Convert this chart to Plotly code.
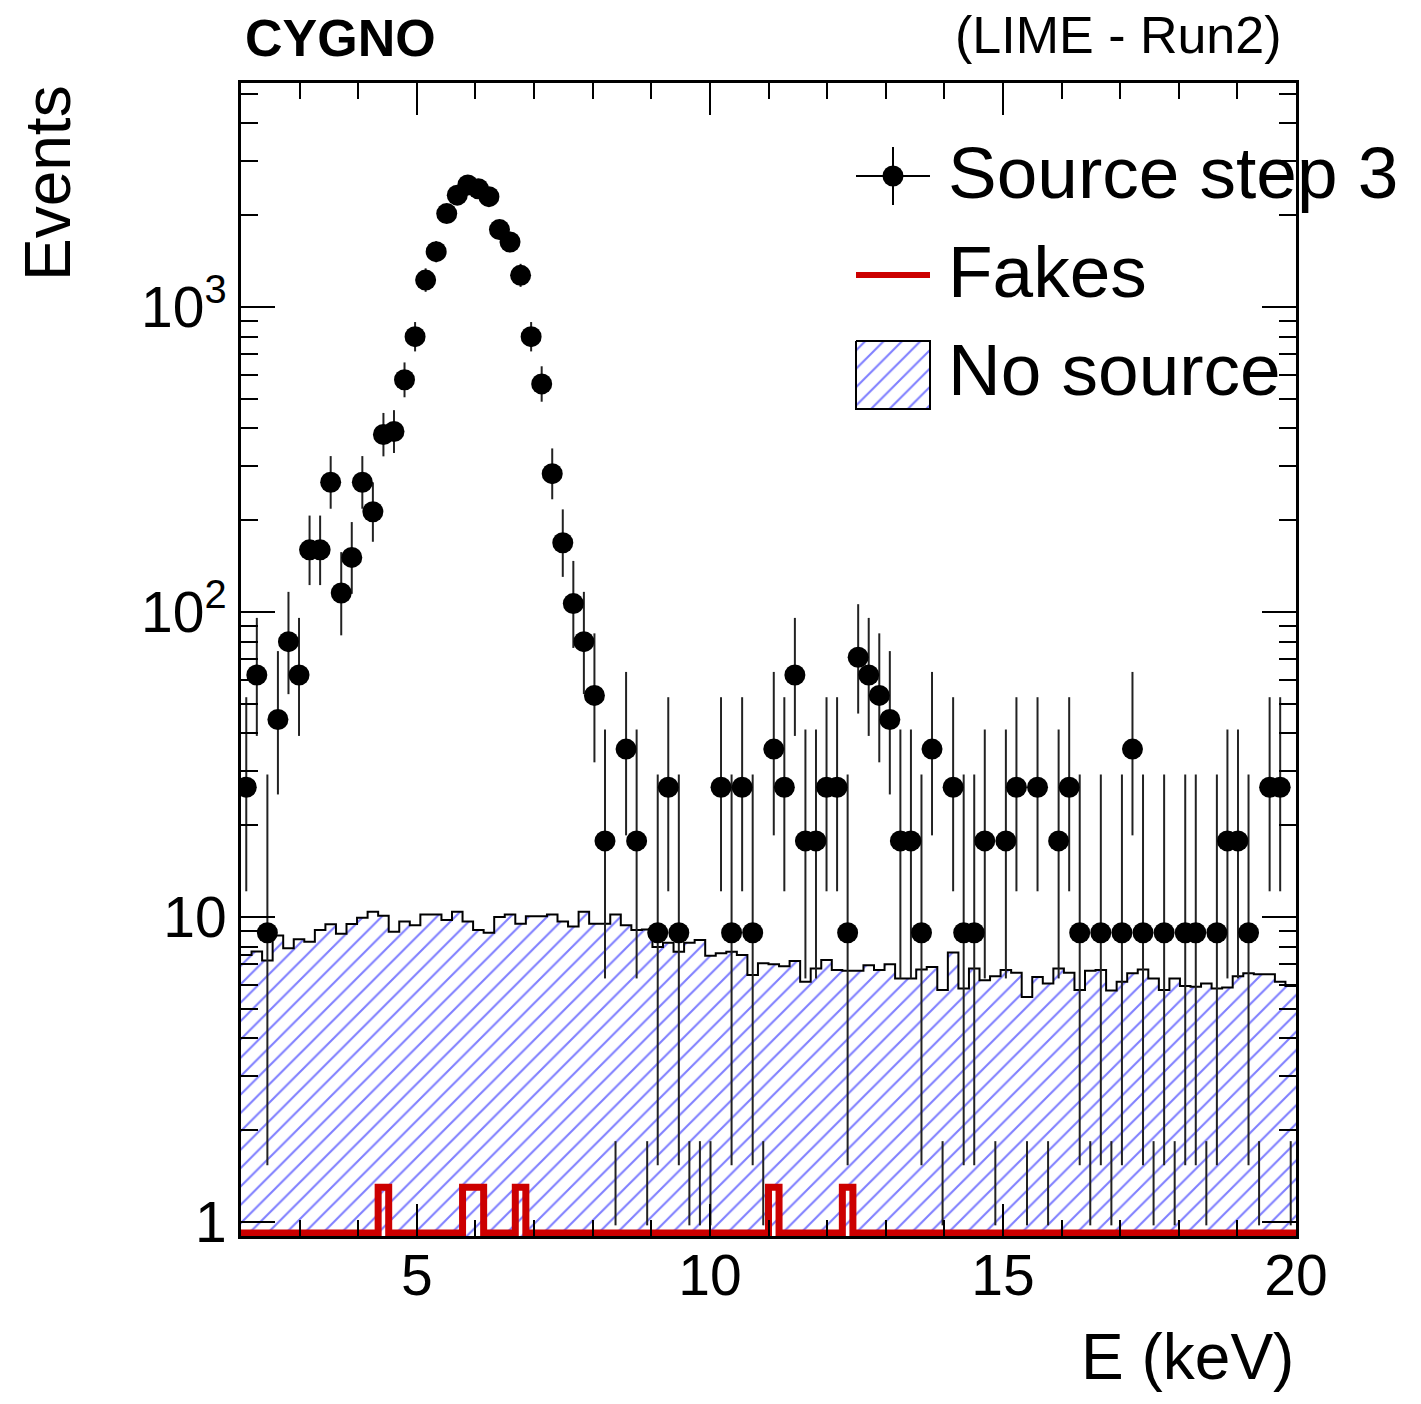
import math
import numpy as np
import plotly.graph_objects as go

# ---------------- data ----------------
X_MIN, X_MAX, N_BINS = 2.0, 20.0, 100
EVENT_WEIGHT = 8.88          # weight of one selected event (histogram is scaled)

# "Source step 3": raw event counts per bin (bin width 0.18 keV)
source_counts = [
    3, 7, 1, 5, 9, 7, 18, 18, 30, 13,
    17, 30, 24, 43, 44, 65, 90, 138, 171, 228,
    262, 283, 275, 259, 202, 184, 143, 90, 63, 32,
    19, 12, 9, 6, 2, 0, 4, 2, 0, 1,
    3, 1, 0, 0, 0, 3, 1, 3, 1, 0,
    4, 3, 7, 2, 2, 3, 3, 1, 8, 7,
    6, 5, 2, 2, 1, 4, 0, 3, 1, 1,
    2, 0, 2, 3, 0, 3, 0, 2, 3, 1,
    0, 1, 0, 1, 4, 1, 0, 1, 0, 1,
    1, 0, 1, 2, 2, 1, 0, 3, 3, 0,
]

# "No source" (normalised) events per bin
no_source = [
    7.5, 7.7, 7.2, 8.7, 7.9, 8.45, 8.3, 9.06, 9.46, 8.82,
    9.48, 9.95, 10.4, 10.1, 8.94, 9.67, 9.4, 10.2, 10.2, 9.78,
    10.4, 9.67, 9.06, 8.88, 10.0, 10.2, 9.5, 10.05, 10.05, 10.2,
    9.67, 9.3, 10.4, 9.5, 9.5, 10.2, 9.4, 9.06, 9.1, 7.97,
    8.23, 7.69, 8.23, 8.4, 7.46, 7.6, 7.69, 7.5, 6.45, 7.05,
    7.0, 6.9, 7.17, 6.13, 6.78, 7.23, 6.7, 6.66, 6.66, 6.95,
    6.7, 7.0, 6.29, 6.29, 6.73, 6.86, 5.76, 7.65, 5.83, 6.78,
    6.2, 6.39, 6.7, 6.57, 5.47, 6.36, 6.05, 6.78, 6.57, 5.76,
    6.66, 6.7, 5.74, 6.13, 6.54, 6.73, 6.29, 5.76, 6.29, 5.94,
    5.91, 6.05, 5.83, 5.87, 6.39, 6.54, 6.49, 6.49, 6.13, 5.94,
]

# "Fakes" per bin
fakes = [
    0, 0, 0, 0, 0, 0, 0, 0, 0, 0,
    0, 0, 0, 1.3, 0, 0, 0, 0, 0, 0,
    0, 1.3, 1.3, 0, 0, 0, 1.3, 0, 0, 0,
    0, 0, 0, 0, 0, 0, 0, 0, 0, 0,
    0, 0, 0, 0, 0, 0, 0, 0, 0, 0,
    1.3, 0, 0, 0, 0, 0, 0, 1.3, 0, 0,
    0, 0, 0, 0, 0, 0, 0, 0, 0, 0,
    0, 0, 0, 0, 0, 0, 0, 0, 0, 0,
    0, 0, 0, 0, 0, 0, 0, 0, 0, 0,
    0, 0, 0, 0, 0, 0, 0, 0, 0, 0,
]

x_tick_vals = [5, 10, 15, 20]
y_tick_vals = [1, 10, 100, 1000]
y_tick_text = ["1", "10", "10<sup>2</sup>", "10<sup>3</sup>"]

# ---------------- style ----------------
FONT = "Liberation Sans, Arial, Helvetica, sans-serif"
W, H = 1421, 1404
ML, MR, MT, MB = 241, 125, 83, 168
Y_LOG_RANGE = [-0.0459, 3.7344]
HATCH = dict(shape="/", fgcolor="#0000ff", bgcolor="white", size=13, solidity=0.16)
RED = "#cc0000"
ERR_COLOR = "#222222"
ZERO_FLOOR = 0.92       # where empty bins are drawn on the log axis
ZERO_ERR_FLOOR = 0.975

# ---------------- helpers ----------------
edges = np.linspace(X_MIN, X_MAX, N_BINS + 1)
centers = 0.5 * (edges[:-1] + edges[1:])

ALPHA = (1 - 0.682689492) / 2


def pois_cdf(n, mu):
    if mu <= 0:
        return 1.0
    s = 0.0
    lm = math.log(mu)
    for k in range(n + 1):
        s += math.exp(k * lm - mu - math.lgamma(k + 1))
    return s


def solve(f, lo, hi):
    for _ in range(80):
        mid = 0.5 * (lo + hi)
        if f(mid) > 0:
            lo = mid
        else:
            hi = mid
    return 0.5 * (lo + hi)


def garwood(n):
    hi = n + 10 * math.sqrt(n + 1) + 10
    up = solve(lambda mu: pois_cdf(n, mu) - ALPHA, 0.0, hi)
    lo = 0.0 if n == 0 else solve(lambda mu: pois_cdf(n - 1, mu) - (1 - ALPHA), 0.0, hi)
    return lo, up


def step(vals):
    return list(edges), list(vals) + [vals[-1]]


fig = go.Figure()

# No source: hatched histogram
sx, sy = step(no_source)
fig.add_trace(go.Scatter(
    x=sx, y=sy, mode="lines", line=dict(color="black", width=2, shape="hv"),
    fill="tozeroy", fillcolor="rgba(0,0,0,0)", fillpattern=HATCH,
    hoverinfo="skip", name="No source"))

# Fakes: red step line
fx, fy = step([v if v > 0 else ZERO_FLOOR for v in fakes])
fig.add_trace(go.Scatter(
    x=fx, y=fy, mode="lines", line=dict(color=RED, width=7, shape="hv"),
    name="Fakes"))

# Empty bins of the source histogram: only upper Poisson error
zx, zy = [], []
for c, n in zip(centers, source_counts):
    if n == 0:
        lo, up = garwood(0)
        zx += [c, c, None]
        zy += [ZERO_ERR_FLOOR, up, None]
fig.add_trace(go.Scatter(x=zx, y=zy, mode="lines",
                         line=dict(color=ERR_COLOR, width=2), name="empty bins"))

# Source step 3: points with Poisson errors
px, py, eu, ed = [], [], [], []
for c, n in zip(centers, source_counts):
    if n > 0:
        lo, up = garwood(n)
        px.append(c)
        py.append(n * EVENT_WEIGHT)
        eu.append((up - n) * EVENT_WEIGHT)
        ed.append((n - lo) * EVENT_WEIGHT)
fig.add_trace(go.Scatter(
    x=px, y=py, mode="markers",
    marker=dict(symbol="circle", size=21, color="black"),
    error_y=dict(type="data", symmetric=False, array=eu, arrayminus=ed,
                 color=ERR_COLOR, thickness=2, width=0),
    name="Source step 3"))

# ---------------- hand-drawn legend (in plot-fraction coordinates) ----------------
def fx_(p):
    return (p - ML) / (W - ML - MR)


def fy_(p):
    return (H - MB - p) / (H - MT - MB)


lx0, lx1, lxm = fx_(856), fx_(930), fx_(893)
# marker entry
fig.add_trace(go.Scatter(x=[lx0, lx1, None, lxm, lxm], y=[fy_(176), fy_(176), None, fy_(147), fy_(205)],
                         mode="lines", line=dict(color="black", width=2),
                         xaxis="x2", yaxis="y2", cliponaxis=False, hoverinfo="skip"))
fig.add_trace(go.Scatter(x=[lxm], y=[fy_(176)], mode="markers",
                         marker=dict(size=21, color="black"),
                         xaxis="x2", yaxis="y2", cliponaxis=False, hoverinfo="skip"))
# red line entry
fig.add_trace(go.Scatter(x=[lx0, lx1], y=[fy_(275), fy_(275)], mode="lines",
                         line=dict(color=RED, width=6),
                         xaxis="x2", yaxis="y2", cliponaxis=False, hoverinfo="skip"))
# hatched box entry
fig.add_trace(go.Scatter(x=[lx0, lx1, lx1, lx0, lx0],
                         y=[fy_(341), fy_(341), fy_(409), fy_(409), fy_(341)],
                         mode="lines", fill="toself", fillcolor="rgba(0,0,0,0)",
                         fillpattern=HATCH, line=dict(color="black", width=2),
                         xaxis="x2", yaxis="y2", cliponaxis=False, hoverinfo="skip"))

leg_font = dict(family=FONT, size=73, color="black")
annotations = [
    dict(text="Source step 3", x=fx_(946), y=fy_(172), xanchor="left", yanchor="middle", font=leg_font),
    dict(text="Fakes", x=fx_(946), y=fy_(271), xanchor="left", yanchor="middle", font=leg_font),
    dict(text="No source", x=fx_(946), y=fy_(370), xanchor="left", yanchor="middle", font=leg_font),
    dict(text="<b>CYGNO</b>", x=fx_(243), y=fy_(38), xanchor="left", yanchor="middle",
         font=dict(family=FONT, size=52, color="black")),
    dict(text="(LIME - Run2)", x=fx_(1284), y=fy_(35), xanchor="right", yanchor="middle",
         font=dict(family=FONT, size=52, color="black")),
    dict(text="E (keV)", x=1.0, y=fy_(1357), xanchor="right", yanchor="middle",
         font=dict(family=FONT, size=64, color="black")),
    dict(text="Events", x=fx_(48), y=1.0, xanchor="center", yanchor="top", textangle=-90,
         font=dict(family=FONT, size=64, color="black")),
]
for a in annotations:
    a.update(xref="paper", yref="paper", showarrow=False)

minor_y = [m * 10 ** d for d in range(-1, 4) for m in range(2, 10)]

fig.update_layout(
    width=W, height=H,
    margin=dict(l=ML, r=MR, t=MT, b=MB, pad=0),
    paper_bgcolor="white", plot_bgcolor="white",
    showlegend=False,
    font=dict(family=FONT, color="black"),
    annotations=annotations,
    xaxis=dict(range=[X_MIN, X_MAX], tickmode="array", tickvals=x_tick_vals,
               ticks="inside", ticklen=32, tickwidth=2, tickcolor="black",
               showline=True, linewidth=3, linecolor="black", mirror="ticks",
               showgrid=False, zeroline=False, ticklabelstandoff=-12,
               tickfont=dict(family=FONT, size=57, color="black"),
               minor=dict(ticks="inside", ticklen=16, tickwidth=2, tickcolor="black",
                          dtick=1, showgrid=False)),
    yaxis=dict(type="log", range=Y_LOG_RANGE, tickmode="array", tickvals=y_tick_vals,
               ticktext=y_tick_text,
               ticks="inside", ticklen=34, tickwidth=2, tickcolor="black",
               showline=True, linewidth=3, linecolor="black", mirror="ticks",
               showgrid=False, zeroline=False,
               tickfont=dict(family=FONT, size=57, color="black"),
               minor=dict(ticks="inside", ticklen=17, tickwidth=2, tickcolor="black",
                          tickmode="array", tickvals=minor_y, showgrid=False)),
    xaxis2=dict(overlaying="x", range=[0, 1], visible=False, anchor="y2"),
    yaxis2=dict(overlaying="y", range=[0, 1], visible=False, anchor="x2"),
)

fig.write_html("out.html")
